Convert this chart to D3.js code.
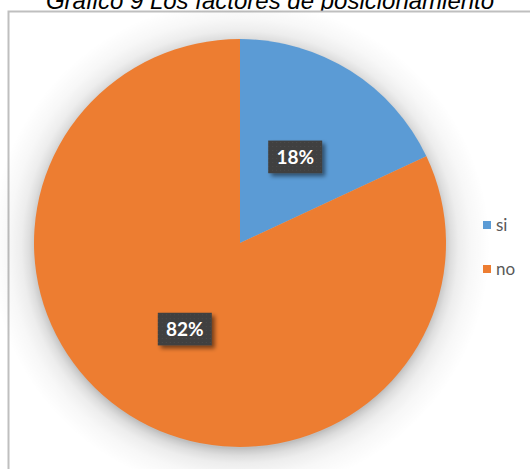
<!DOCTYPE html>
<html>
<head>
<meta charset="utf-8">
<script src="https://cdn.jsdelivr.net/npm/d3@7"></script>
<style>
  html, body { margin: 0; padding: 0; background: #fff; }
  svg { display: block; }
</style>
</head>
<body>
<svg id="chart" width="530" height="469"></svg>
<script>
// Survey answers: share of respondents
const categories = ["si", "no"];
const values = [18, 82];
const colors = ["#5B9BD5", "#ED7D31"];
const title = "Gráfico 9 Los factores de posicionamiento";

const svg = d3.select("#chart");
const defs = svg.append("defs");

const cx = 240, cy = 243, r = 206, halo = 44;

// soft halo around the pie
const edge = r / (r + halo);
const rg = defs.append("radialGradient").attr("id", "halo");
[[0, 0.25], [edge - 0.01, 0.25], [edge, 0.2], [edge + 0.02, 0.13], [edge + 0.05, 0.07], [edge + 0.1, 0.03], [1, 0]]
  .forEach(([o, a]) => rg.append("stop").attr("offset", o).attr("stop-color", "#000").attr("stop-opacity", a));

// label box shadow
const bs = defs.append("filter").attr("id", "boxShadow")
  .attr("x", "-40%").attr("y", "-40%").attr("width", "190%").attr("height", "190%");
bs.append("feGaussianBlur").attr("in", "SourceAlpha").attr("stdDeviation", 2).attr("result", "b");
bs.append("feOffset").attr("in", "b").attr("dx", 3).attr("dy", 3).attr("result", "o");
bs.append("feComponentTransfer").attr("in", "o").attr("result", "s")
  .append("feFuncA").attr("type", "linear").attr("slope", 0.5);
const bm = bs.append("feMerge");
bm.append("feMergeNode").attr("in", "s");
bm.append("feMergeNode").attr("in", "SourceGraphic");

// dotted texture for label boxes
const pat = defs.append("pattern").attr("id", "dots")
  .attr("width", 4).attr("height", 4).attr("patternUnits", "userSpaceOnUse");
pat.append("rect").attr("width", 4).attr("height", 4).attr("fill", "#404040");
pat.append("rect").attr("x", 1).attr("y", 1).attr("width", 1).attr("height", 1).attr("fill", "#4a4a4a");

// title (runs up against the page's top edge)
svg.append("text")
  .attr("x", 270).attr("y", 9)
  .attr("text-anchor", "middle")
  .attr("font-family", "Liberation Sans, Arial, sans-serif")
  .attr("font-style", "italic")
  .attr("font-size", 24)
  .attr("fill", "#000")
  .text(title);

// chart frame
svg.append("rect")
  .attr("x", 8.5).attr("y", 11.5)
  .attr("width", 540).attr("height", 480)
  .attr("fill", "#fff")
  .attr("stroke", "#bfbfbf").attr("stroke-width", 2);

const pie = d3.pie().sort(null).value(d => d.value);
const arc = d3.arc().innerRadius(0).outerRadius(r);
const data = pie(categories.map((c, i) => ({ cat: c, value: values[i], color: colors[i] })));

const g = svg.append("g").attr("transform", `translate(${cx},${cy}) scale(1,0.99)`);
g.append("circle")
  .attr("cx", 0).attr("cy", 4).attr("r", r + halo)
  .attr("fill", "url(#halo)");
g.append("g")
  .selectAll("path").data(data).join("path")
  .attr("d", arc)
  .attr("fill", d => d.data.color);

// data labels
const lab = g.selectAll("g.lab").data(data).join("g")
  .attr("class", "lab")
  .attr("transform", d => `translate(${arc.centroid(d)})`);
lab.append("rect")
  .attr("x", -27).attr("y", -16.5)
  .attr("width", 54).attr("height", 33)
  .attr("fill", "url(#dots)")
  .attr("filter", "url(#boxShadow)");
lab.append("text")
  .attr("text-anchor", "middle")
  .attr("dy", "0.36em")
  .attr("font-family", "Lato, 'Open Sans', sans-serif")
  .attr("font-weight", "bold")
  .attr("font-size", 19)
  .attr("fill", "#fff")
  .text(d => d.data.value + "%");

// legend
const leg = svg.append("g").attr("transform", "translate(483,221)")
  .selectAll("g").data(data).join("g")
  .attr("transform", (d, i) => `translate(0,${i * 44})`);
leg.append("rect")
  .attr("width", 8).attr("height", 8)
  .attr("fill", d => d.data.color);
leg.append("text")
  .attr("x", 13).attr("y", 9.5)
  .attr("font-family", "Lato, 'Open Sans', sans-serif")
  .attr("font-size", 17)
  .attr("fill", "#595959")
  .text(d => d.data.cat);
</script>
</body>
</html>
